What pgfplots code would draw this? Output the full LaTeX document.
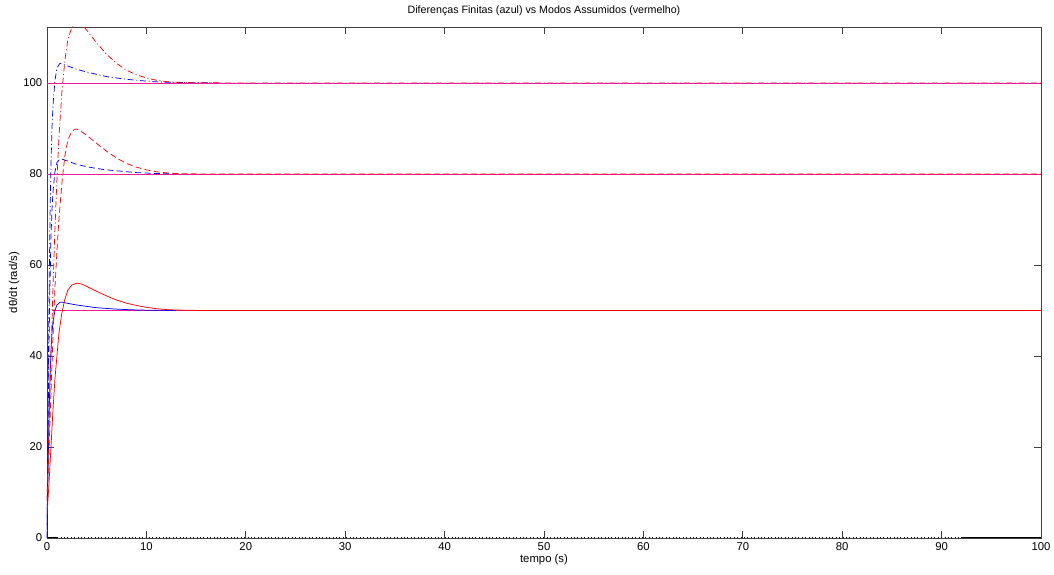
\documentclass[border=0pt]{standalone}
\usepackage{fontspec}
\setmainfont{Liberation Sans}
\usepackage{pgfplots}
\pgfplotsset{compat=1.18}
\begin{document}
\begin{tikzpicture}
\useasboundingbox (-35.25pt,-27.75pt) rectangle (755.25pt,403.5pt);
\begin{axis}[
  at={(0,0)}, anchor=south west,
  scale only axis,
  width=745.5pt, height=383.25pt,
  xmin=0, xmax=100, ymin=0, ymax=112.3,
  xtick={0,10,...,100}, ytick={0,20,...,100},
  tick align=inside,
  major tick length=5pt,
  axis line style={black!75, line width=0.5pt},
  every tick/.style={black!75, line width=0.5pt},
  tick label style={font=\fontsize{8.5}{10}\selectfont},
  /pgf/number format/assume math mode=true,
  title={Diferenças Finitas (azul) vs Modos Assumidos (vermelho)},
  title style={font=\fontsize{8}{10}\selectfont, yshift=-1pt},
  xlabel={tempo (s)},
  xlabel style={font=\fontsize{8.5}{10}\selectfont, yshift=4pt},
  ylabel={dθ/dt (rad/s)},
  ylabel style={font=\fontsize{8.5}{10}\selectfont, yshift=-4pt},
  every axis plot/.append style={line width=0.55pt},
]
% reference levels
\addplot[magenta!90!white] coordinates {(0,80) (100,80)};
\addplot[magenta!90!white] coordinates {(0.5,50) (100,50)};
% zero line
\addplot[black, dotted, line width=0.8pt] coordinates {(0,0) (100,0)};
\addplot[black, line width=0.7pt] coordinates {(0,0.15) (1,0.15)};
\addplot[black, line width=0.7pt] coordinates {(92,0.15) (100,0.15)};
% blue solid (50)
\addplot[blue] coordinates {(0,0) (0.1,14) (0.2,26) (0.3,35) (0.4,41) (0.5,45) (0.6,47.5) (0.8,50) (1.0,51.2) (1.3,51.8) (1.6,51.8) (2,51.6) (2.5,51.4) (3,51.2) (4,50.9) (5,50.6) (6,50.45) (7,50.3) (8,50.2) (9,50.12) (10,50.07) (11,50.04) (12,50.02) (13,50.01)};
% blue dashed (80)
\addplot[blue, dash pattern=on 4.5pt off 2.5pt] coordinates {(0,0) (0.1,22) (0.2,42) (0.3,56) (0.4,66) (0.5,72) (0.6,76) (0.8,80.5) (1.0,82.5) (1.3,83.3) (1.6,83.2) (2,82.9) (2.5,82.5) (3,82.1) (4,81.6) (5,81.2) (6,80.9) (7,80.7) (8,80.5) (9,80.3) (10,80.2) (11,80.1) (12,80.05) (13,80.02)};
% blue dash-dot (100)
\addplot[blue, dash pattern=on 4.5pt off 2pt on 0.8pt off 2pt] coordinates {(0,0) (0.1,28) (0.2,52) (0.3,70) (0.4,82) (0.5,90) (0.6,95) (0.8,100.5) (1.0,103.3) (1.3,104.3) (1.6,104.1) (2,103.8) (2.5,103.4) (3,103) (4,102.4) (5,101.9) (6,101.4) (7,101.1) (8,100.8) (9,100.6) (10,100.4) (11,100.25) (12,100.17) (13,100.1) (15,100.04) (17.5,100.01)};
% red solid (50)
\addplot[red] coordinates {(0,5) (0.2,12) (0.4,20) (0.6,28) (0.8,35) (1.0,40) (1.2,45) (1.5,49.5) (1.8,52.5) (2.1,54.5) (2.5,55.6) (3,56) (3.5,55.8) (4,55.3) (5,54.2) (6,53.2) (7,52.3) (8,51.6) (9,51.1) (10,50.7) (11,50.4) (12,50.2) (13,50.1) (15,50.02) (20,50) (100,50)};
% red dashed (80)
\addplot[red, dash pattern=on 4.5pt off 2.5pt] coordinates {(0,8) (0.2,19) (0.4,32) (0.6,44) (0.8,55) (1.0,63) (1.2,70) (1.5,78) (1.8,84) (2.1,87.5) (2.5,89.4) (2.9,89.9) (3.3,89.6) (4,88.5) (5,86.7) (6,85) (7,83.5) (8,82.3) (9,81.5) (10,80.9) (11,80.5) (12,80.25) (13,80.1) (15,80.02) (20,80) (100,80)};
% red dash-dot (100)
\addplot[red, dash pattern=on 4.5pt off 2pt on 0.8pt off 2pt] coordinates {(0,10) (0.2,24) (0.4,40) (0.6,55) (0.8,68) (1.0,79) (1.2,88) (1.5,98) (1.8,105) (2.1,109.5) (2.5,112.3) (2.9,113.4) (3.3,113.3) (4,111.6) (5,108.8) (6,106.3) (7,104.3) (8,102.8) (9,101.8) (10,101.1) (11,100.6) (12,100.3) (13,100.15) (15,100.04) (20,100) (100,100)};
% reference level 100 drawn on top
\addplot[magenta!90!white] coordinates {(0,100) (100,100)};
\end{axis}
\end{tikzpicture}
\end{document}
